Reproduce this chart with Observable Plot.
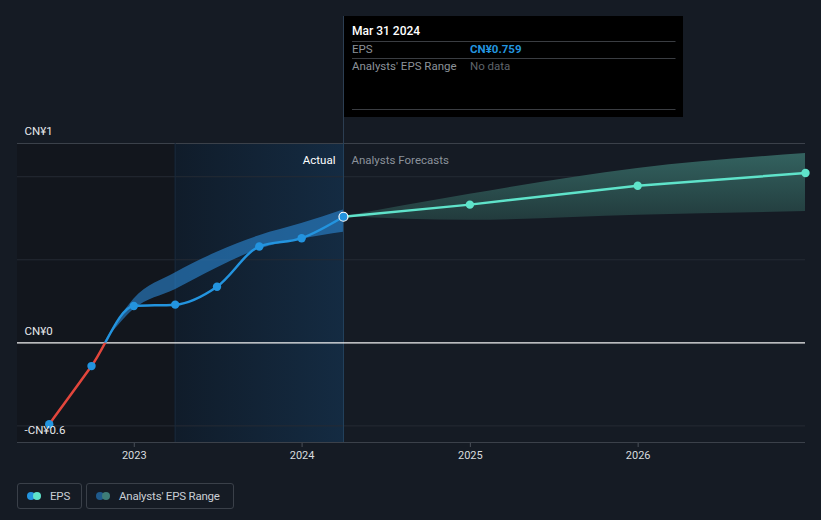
<!DOCTYPE html>
<html>
<head>
<meta charset="utf-8">
<script src="https://cdn.jsdelivr.net/npm/d3@7"></script>
<script src="https://cdn.jsdelivr.net/npm/@observablehq/plot@0.6"></script>
<style>
  html, body { margin: 0; padding: 0; background: #151b24; }
  body { width: 821px; height: 520px; overflow: hidden; font-family: Roboto, "Open Sans", sans-serif; }
  #wrap { position: relative; width: 821px; height: 520px; }
  .legend { position: absolute; top: 483px; height: 26px; border: 1px solid #3a4049; border-radius: 3px; box-sizing: border-box;
            color: #c9ced4; font-size: 11.5px; letter-spacing: -0.2px; display: flex; align-items: center; white-space: nowrap; }
  .sw { position: relative; width: 15px; height: 10px; margin-left: 9px; margin-right: 8px; flex: none; }
  .sw span { position: absolute; top: 1px; width: 8px; height: 8px; border-radius: 50%; }
</style>
</head>
<body>
<div id="wrap"></div>
<script>
// ---- data ----
const actualDates = ["2022-06-30","2022-09-30","2022-12-31","2023-03-31","2023-06-30","2023-09-30","2023-12-31","2024-03-31"];
const actualEPS   = [-0.49, -0.14, 0.222, 0.23, 0.338, 0.58, 0.63, 0.759];
const forecastDates = ["2024-03-31","2024-12-31","2025-12-31","2026-12-31"];
const forecastEPS   = [0.759, 0.832, 0.946, 1.022];
const forecastLow   = [0.759, 0.738, 0.768, 0.79];
const forecastHigh  = [0.759, 0.894, 1.05, 1.14];
const pastRangeDates = ["2022-10-28","2022-12-31","2023-03-31","2023-06-30","2023-09-30","2023-12-31","2024-03-31"];
const pastRangeLow   = [0, 0.2, 0.32, 0.45, 0.564, 0.624, 0.666];
const pastRangeHigh  = [0, 0.262, 0.42, 0.545, 0.645, 0.718, 0.8];
const xDomainDates = ["2022-04-22","2026-12-31"];
const xTickDates = ["2023-01-01","2024-01-01","2025-01-01","2026-01-01"];
const yDomain = [-0.6, 1.2];
const yLabelValues = [1.2, 0, -0.6];
const yLabelTexts = ["CN¥1", "CN¥0", "-CN¥0.6"];
const gridValues = [1, 0.5, -0.5];
const frameValues = [1.2, -0.6];
const darkRegion = ["2022-04-22","2023-03-31"];
const blueRegion = ["2023-03-31","2024-03-31"];
const tooltipDate = "Mar 31 2024";
const tooltipEPS = "CN¥0.759";

const parse = d3.utcParse("%Y-%m-%d");
const actual = actualDates.map((d, i) => ({date: parse(d), eps: actualEPS[i]}));
const forecast = forecastDates.map((d, i) => ({date: parse(d), eps: forecastEPS[i], lo: forecastLow[i], hi: forecastHigh[i]}));
const pastRange = pastRangeDates.map((d, i) => ({date: parse(d), lo: pastRangeLow[i], hi: pastRangeHigh[i]}));
const lastDate = actual[actual.length - 1].date;

const svgEl = Plot.plot({
  width: 821, height: 470,
  marginTop: 143, marginBottom: 28, marginLeft: 17, marginRight: 16,
  style: {background: "transparent", color: "#d3d7dc", fontFamily: "Roboto, sans-serif", fontSize: "11px", overflow: "visible"},
  x: {type: "utc", domain: xDomainDates.map(parse), ticks: xTickDates.map(parse), tickFormat: d3.utcFormat("%Y"), tickSize: 5, tickPadding: 4, label: null},
  y: {domain: yDomain, axis: null},
  marks: [
    Plot.rect([darkRegion], {x1: d => parse(d[0]), x2: d => parse(d[1]), fill: "#12161d"}),
    Plot.rect([blueRegion], {x1: d => parse(d[0]), x2: d => parse(d[1]), fill: "#010203"}),
    Plot.ruleY(gridValues, {stroke: "#252b34"}),
    Plot.ruleY(frameValues, {stroke: "#3b414a"}),
    Plot.ruleX([parse(blueRegion[0])], {stroke: "#19293b"}),
    Plot.ruleX([lastDate], {stroke: "#24425f"}),
    Plot.areaY(pastRange, {x: "date", y1: "lo", y2: "hi", curve: "monotone-x", fill: "#2c88d6", fillOpacity: 0.6}),
    Plot.areaY(forecast, {x: "date", y1: "lo", y2: "hi", curve: "monotone-x", fill: "#020304"}),
    Plot.ruleY([0], {stroke: "#f2f2f2", strokeWidth: 1.2}),
    Plot.line(actual, {x: "date", y: "eps", stroke: "#2394df", strokeWidth: 2.5, curve: "monotone-x"}),
    Plot.line(actual, {x: "date", y: "eps", stroke: "#e2463c", strokeWidth: 2.5, curve: "monotone-x"}),
    Plot.line(forecast, {x: "date", y: "eps", stroke: "#5fe3ca", strokeWidth: 2.5}),
    Plot.dot(actual.slice(0, -1), {x: "date", y: "eps", r: 4.2, fill: "#2394df"}),
    Plot.dot(forecast.slice(1), {x: "date", y: "eps", r: 4.2, fill: "#5fe3ca"}),
    Plot.dot(actual.slice(-1), {x: "date", y: "eps", r: 4.5, fill: "#2394df", stroke: "#ffffff", strokeWidth: 1.2}),
    Plot.text(yLabelValues, {y: d => d, text: (d, i) => yLabelTexts[i], frameAnchor: "left", dx: 7, dy: -12, textAnchor: "start", fill: "#e6e8eb", fontSize: 11.5}),
    Plot.text(["Actual"], {x: () => lastDate, text: d => d, frameAnchor: "top", dx: -8, dy: 12, textAnchor: "end", fill: "#ffffff", fontSize: 11.5}),
    Plot.text(["Analysts Forecasts"], {x: () => lastDate, text: d => d, frameAnchor: "top", dx: 8, dy: 12, textAnchor: "start", fill: "#8b929b", fontSize: 11.5})
  ]
});

const svg = d3.select(svgEl);
const xs = svgEl.scale("x"), ys = svgEl.scale("y");
const y0 = ys.apply(0);
const defs = svg.insert("defs", ":first-child");
const bg = defs.append("linearGradient").attr("id", "blueGrad").attr("x1", 0).attr("x2", 1).attr("y1", 0).attr("y2", 0);
bg.append("stop").attr("offset", 0).attr("stop-color", "#101c2a");
bg.append("stop").attr("offset", 1).attr("stop-color", "#142b42");
const fg = defs.append("linearGradient").attr("id", "fcGrad").attr("x1", 0).attr("x2", 0).attr("y1", 0).attr("y2", 1);
fg.append("stop").attr("offset", 0).attr("stop-color", "#33625f");
fg.append("stop").attr("offset", 1).attr("stop-color", "#223b3d");
defs.append("clipPath").attr("id", "clipNeg").append("rect").attr("x", 0).attr("y", y0).attr("width", 821).attr("height", 470 - y0);
defs.append("clipPath").attr("id", "clipPos").append("rect").attr("x", 0).attr("y", 0).attr("width", 821).attr("height", y0);

svg.selectAll('[fill="#010203"]').attr("fill", "url(#blueGrad)");
svg.selectAll('[fill="#020304"]').attr("fill", "url(#fcGrad)");
svg.selectAll('[stroke="#2394df"]').filter(function() { return this.getAttribute("aria-label") === "line" || (this.tagName === "g" && this.querySelector("path")); })
   .attr("clip-path", "url(#clipPos)");
svg.selectAll('[stroke="#e2463c"]').attr("clip-path", "url(#clipNeg)");
svg.selectAll('[aria-label^="x-axis"] line, [aria-label="x-axis tick"]').attr("stroke", "#4a5059");
svg.selectAll('[aria-label^="x-axis"] text, [aria-label="x-axis tick label"]').attr("fill", "#d8dbdf");

// tooltip
const tx = Math.round(xs.apply(lastDate)) + 0.5;
const tip = svg.append("g").attr("font-family", "Roboto, sans-serif").attr("text-anchor", "start");
tip.append("line").attr("x1", tx).attr("x2", tx).attr("y1", 16).attr("y2", 143).attr("stroke", "#2c3e52");
tip.append("rect").attr("x", tx + 0.5).attr("y", 16).attr("width", 339).attr("height", 101).attr("fill", "#000000");
tip.append("text").attr("x", tx + 8.5).attr("y", 35).attr("fill", "#ffffff").attr("font-size", 12).attr("font-weight", 500).text(tooltipDate);
[41.5, 58.5, 109.5].forEach(y => tip.append("line").attr("x1", tx + 8.5).attr("x2", tx + 332).attr("y1", y).attr("y2", y).attr("stroke", "#3a3d42"));
tip.append("text").attr("x", tx + 8.5).attr("y", 53).attr("fill", "#8c9299").attr("font-size", 11.5).text("EPS");
tip.append("text").attr("x", tx + 126.5).attr("y", 53).attr("fill", "#2394df").attr("font-size", 11.5).attr("font-weight", 700).text(tooltipEPS);
tip.append("text").attr("x", tx + 8.5).attr("y", 70).attr("fill", "#8c9299").attr("font-size", 11.5).text("Analysts' EPS Range");
tip.append("text").attr("x", tx + 126.5).attr("y", 70).attr("fill", "#5f646b").attr("font-size", 11.5).text("No data");

const wrap = document.getElementById("wrap");
wrap.appendChild(svgEl);
svgEl.style.position = "absolute"; svgEl.style.left = "0"; svgEl.style.top = "0";

// legend
const legendItems = [
  {label: "EPS", colors: ["#2394df", "#5fe3ca"], left: 17, width: 65},
  {label: "Analysts' EPS Range", colors: ["#1f5a8c", "#3e7c77"], left: 86, width: 148}
];
legendItems.forEach(it => {
  const d = document.createElement("div");
  d.className = "legend";
  d.style.left = it.left + "px"; d.style.width = it.width + "px";
  d.innerHTML = `<div class="sw"><span style="left:0;background:${it.colors[0]}"></span><span style="left:6px;background:${it.colors[1]}"></span></div><span>${it.label}</span>`;
  wrap.appendChild(d);
});
</script>
</body>
</html>
